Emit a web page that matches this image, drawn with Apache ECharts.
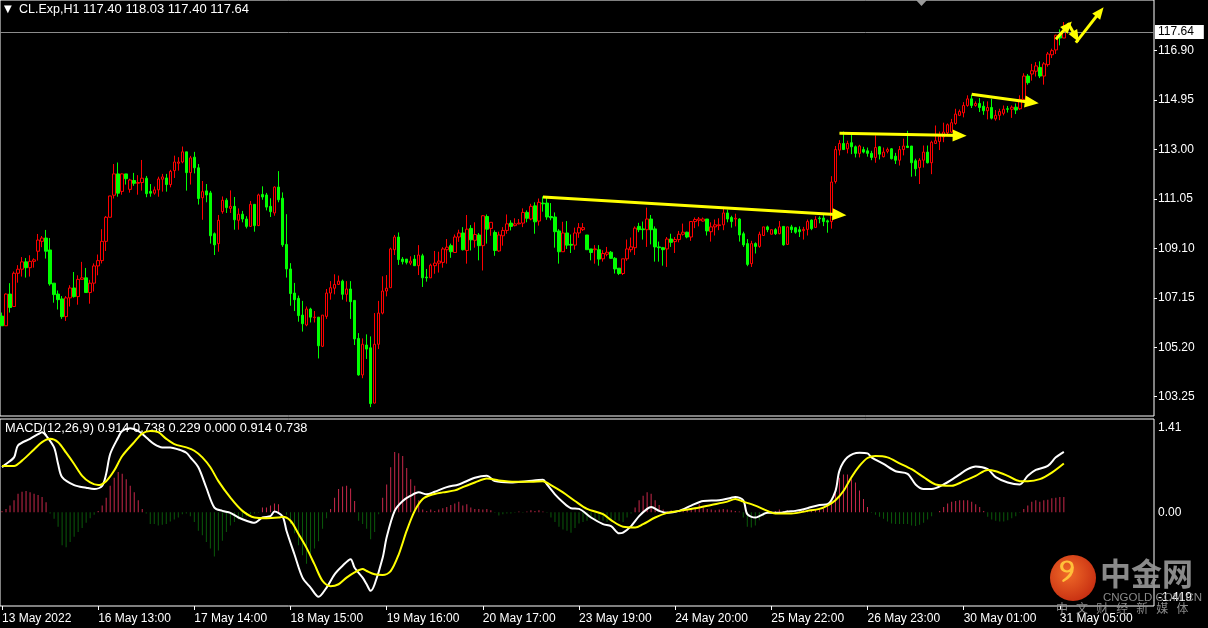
<!DOCTYPE html>
<html><head><meta charset="utf-8">
<script src="https://cdn.jsdelivr.net/npm/echarts@6/dist/echarts.min.js"></script>
<style>html,body{margin:0;padding:0;background:#000;}#c{width:1208px;height:628px;}</style>
</head><body><div id="c"></div>
<script>
const symbolName = 'CL.Exp,H1';
const macdTitle = 'MACD(12,26,9) 0.914 0.738 0.229 0.000 0.914 0.738';
const tickLabels = ['13 May 2022','16 May 13:00','17 May 14:00','18 May 15:00','19 May 16:00','20 May 17:00','23 May 19:00','24 May 20:00','25 May 22:00','26 May 23:00','30 May 01:00','31 May 05:00'];
const slotCount = 288;
const priceTicks = [103.25,105.20,107.15,109.10,111.05,113.00,114.95,116.90];
const priceMin = 102.49, priceMax = 118.90;
const macdTicks = [1.41, 0, -1.419];
const lastPrice = 117.64;
// [open, close, low, high]
const candles = [
[106.43,106.05,106.05,106.57],[106.05,107.30,106.05,107.33],[107.30,106.77,106.57,107.73],[106.81,108.12,106.81,108.19],[108.12,108.28,107.75,108.44],
[108.28,108.57,107.99,108.76],[108.57,108.34,107.95,108.72],[108.34,108.59,107.99,108.83],[108.59,108.65,108.34,108.71],[108.99,109.43,108.62,109.67],
[109.38,109.51,109.15,109.59],[109.51,108.99,108.70,109.83],[109.04,107.70,107.63,109.51],[107.73,107.28,106.96,107.73],[107.30,107.08,106.69,107.44],
[107.11,106.41,106.32,107.22],[106.41,107.15,106.24,107.22],[107.15,107.54,106.81,107.65],[107.54,107.20,107.16,108.17],[107.20,107.88,106.88,108.04],
[107.88,107.94,107.88,108.57],[107.94,107.36,107.36,108.33],[107.36,107.73,106.92,107.86],[107.73,108.41,107.40,108.51],[108.41,108.62,108.04,108.86],
[108.62,109.38,108.51,109.86],[109.38,110.33,109.00,110.38],[110.33,111.17,110.33,111.17],[111.20,112.04,111.07,112.43],[112.04,111.28,111.14,112.49],
[111.35,112.04,111.22,112.06],[112.04,111.85,111.62,112.04],[111.43,111.80,111.30,111.85],[111.78,111.67,111.57,112.08],[111.67,111.70,111.22,111.99],
[111.70,111.87,111.38,112.59],[111.87,111.26,111.12,111.96],[111.35,111.28,111.14,111.64],[111.28,111.41,111.22,111.54],[111.41,111.84,111.14,111.93],
[111.83,111.92,111.34,112.04],[111.88,111.62,111.34,112.04],[111.62,112.14,111.51,112.20],[112.17,112.51,111.88,112.76],[112.46,112.51,112.17,112.70],
[112.51,112.91,112.46,113.12],[112.91,112.09,111.38,112.91],[112.09,112.67,111.62,112.75],[112.70,112.28,112.06,112.91],[112.28,111.07,110.83,112.43],
[111.10,111.34,110.23,111.76],[111.37,111.21,110.92,111.64],[111.29,109.60,109.29,111.37],[109.68,109.24,108.84,109.73],[109.29,110.21,108.97,110.42],
[110.55,111.00,110.47,111.15],[111.00,110.71,110.50,111.08],[110.68,110.76,110.50,111.39],[110.76,110.23,109.84,111.13],[110.21,110.45,109.84,110.68],
[110.45,110.26,110.13,110.58],[110.26,109.97,109.89,110.37],[109.97,110.84,109.95,110.97],[110.84,110.00,109.76,110.84],[110.00,111.21,110.00,111.26],
[111.23,111.13,111.02,111.55],[111.21,110.73,110.60,111.29],[110.76,110.55,110.34,111.08],[110.50,111.52,110.39,111.55],[111.52,111.02,110.92,112.15],
[111.08,109.24,109.16,111.31],[109.26,108.29,107.95,110.45],[108.29,107.32,106.84,108.52],[107.34,107.08,106.63,107.74],[107.13,106.45,106.21,107.24],
[106.47,106.13,105.82,107.03],[106.08,106.71,106.03,106.81],[106.71,106.39,106.18,106.76],[106.37,106.39,106.18,106.63],[106.39,105.26,104.76,106.39],
[105.24,106.47,105.21,106.47],[106.42,107.34,106.32,107.50],[107.34,107.55,107.08,107.81],[107.53,107.68,107.29,108.08],[107.68,107.81,107.66,108.03],
[107.81,107.29,107.08,107.87],[107.29,107.50,107.00,107.81],[107.50,107.00,106.32,107.81],[107.05,105.53,105.29,107.05],[105.55,104.11,104.08,105.76],
[104.11,105.32,103.98,105.55],[105.29,105.13,104.74,105.71],[105.18,102.98,102.84,105.63],[103.00,105.32,102.98,106.55],[105.32,106.55,105.13,107.03],
[106.55,107.42,106.50,108.00],[107.42,107.53,107.21,108.05],[107.55,109.08,107.55,109.13],[109.05,109.55,108.84,109.63],[109.55,108.66,108.45,109.73],
[108.68,108.58,108.47,108.76],[108.68,108.55,108.47,108.68],[108.52,108.60,108.44,108.79],[108.68,108.42,108.42,108.84],[108.42,108.84,108.05,109.23],
[108.81,107.94,107.58,108.89],[107.97,107.94,107.79,108.29],[107.94,108.44,107.94,108.50],[108.42,108.52,108.10,109.00],[108.52,108.60,108.15,108.97],
[108.55,109.08,108.34,109.15],[109.05,109.15,108.50,109.47],[109.21,108.97,108.73,109.29],[108.94,109.55,108.92,109.65],[109.55,109.71,109.36,109.84],
[109.71,109.05,109.02,109.94],[109.02,109.86,108.50,110.42],[109.89,109.44,109.02,110.02],[109.42,109.65,109.13,110.13],[109.63,109.21,108.63,109.71],
[109.21,110.39,108.23,110.42],[110.36,109.86,109.29,110.44],[109.89,110.13,109.60,110.13],[109.73,109.02,108.81,109.81],[109.00,109.63,108.97,109.76],
[109.60,109.81,109.21,109.94],[109.81,110.07,109.68,110.44],[110.10,109.97,109.81,110.21],[110.00,110.07,109.97,110.29],[110.07,110.10,110.05,110.26],
[110.10,110.52,109.94,110.68],[110.52,110.29,110.13,110.60],[110.26,110.76,110.21,110.86],[110.78,110.15,109.68,110.92],[110.18,110.92,110.00,111.07],
[110.89,110.86,110.55,111.15],[110.89,110.34,110.23,111.10],[110.36,110.31,110.21,110.89],[110.34,109.76,109.13,110.52],[109.79,108.97,108.50,109.86],
[108.97,109.71,108.97,110.15],[109.71,109.23,109.08,110.18],[109.26,109.23,108.92,109.65],[109.23,109.71,109.05,109.92],[109.71,109.92,109.52,110.10],
[109.84,109.92,109.79,110.10],[109.63,109.05,109.05,109.63],[109.08,108.94,108.63,109.08],[109.05,109.08,108.50,109.23],[109.05,108.68,108.42,109.23],
[108.69,108.90,108.58,109.03],[108.87,108.95,108.79,109.16],[108.95,108.71,108.69,109.00],[108.71,108.29,108.11,108.76],[108.32,108.11,108.05,108.32],
[108.11,108.69,108.05,108.69],[108.69,109.08,108.61,109.45],[109.05,109.16,108.95,109.53],[109.13,109.90,108.84,109.97],[109.97,109.84,109.74,110.11],
[109.87,109.84,109.45,110.16],[109.84,110.26,109.16,110.71],[110.26,109.84,109.26,110.42],[109.87,109.16,108.58,109.97],[109.16,109.13,108.58,109.37],
[109.13,109.05,108.42,109.16],[109.08,109.47,108.37,109.55],[109.47,109.34,109.16,109.68],[109.37,109.45,108.92,109.55],[109.45,109.66,109.34,109.79],
[109.66,109.74,109.61,110.08],[109.74,109.55,109.50,109.76],[109.55,110.16,109.40,110.18],[110.16,110.24,109.90,110.32],[110.21,110.26,109.97,110.34],
[110.18,110.26,110.16,110.32],[110.26,109.79,109.61,110.26],[109.76,109.95,109.37,110.13],[109.95,110.03,109.61,110.24],[110.00,110.03,109.82,110.29],
[110.03,110.50,109.82,110.74],[110.50,110.26,110.13,110.63],[110.32,110.16,109.92,110.39],[110.26,110.29,109.97,110.47],[110.26,109.63,109.37,110.29],
[109.68,109.24,109.16,109.76],[109.29,108.47,108.40,109.47],[108.50,109.29,108.37,109.40],[109.29,109.18,108.90,109.34],[109.18,109.66,109.13,109.76],
[109.61,109.95,109.61,109.95],[109.95,109.84,109.74,110.00],[109.66,109.84,109.66,109.84],[109.84,109.68,109.63,109.90],[109.68,109.95,109.66,110.18],
[109.97,109.24,109.21,109.97],[109.26,109.95,109.24,109.95],[109.95,109.84,109.71,110.03],[109.92,109.74,109.68,109.95],[109.84,109.76,109.55,109.97],
[109.80,109.85,109.45,109.95],[109.85,110.16,109.61,110.24],[110.22,109.88,109.82,110.24],[109.93,110.24,109.93,110.37],[110.30,110.27,110.09,110.37],
[110.30,110.16,109.98,110.43],[110.19,110.14,109.72,110.24],[110.16,111.72,109.88,111.95],[111.74,113.00,111.66,113.14],[112.98,113.24,112.77,113.37],
[113.24,113.00,113.00,113.71],[113.03,113.24,112.85,113.35],[113.27,113.11,112.82,113.61],[113.11,112.85,112.69,113.16],[112.85,113.14,112.69,113.19],
[113.00,112.90,112.85,113.11],[112.95,112.85,112.72,113.08],[112.85,112.69,112.58,112.95],[112.69,113.08,112.48,113.56],[113.11,112.82,112.61,113.14],
[112.72,112.90,112.69,113.08],[112.93,113.00,112.85,113.08],[113.03,112.64,112.61,113.06],[112.74,112.58,112.43,112.87],[112.58,113.00,112.37,113.14],
[113.00,113.14,112.77,113.43],[113.14,113.08,113.06,113.74],[113.14,112.48,111.93,113.14],[112.56,112.24,111.95,112.64],[112.29,112.58,111.64,112.66],
[112.58,112.90,112.29,113.16],[112.90,112.48,112.45,113.16],[112.48,113.29,112.03,113.35],[113.24,113.35,113.22,113.95],[113.32,113.53,112.98,113.71],
[113.50,113.69,113.29,114.06],[113.66,113.98,113.61,114.03],[113.69,114.06,113.66,114.21],[114.03,114.40,113.98,114.61],[114.35,114.50,114.32,114.58],
[114.45,114.74,114.27,114.87],[114.74,115.00,114.69,115.14],[115.00,114.74,114.64,115.16],[114.74,114.82,114.69,114.90],[114.82,114.66,114.48,115.03],
[114.71,114.53,114.37,114.90],[114.53,114.66,114.19,114.90],[114.66,114.24,114.19,115.00],[114.21,114.35,114.14,114.56],[114.35,114.50,114.16,114.61],
[114.43,114.59,114.35,114.74],[114.61,114.59,114.46,114.72],[114.59,114.67,114.25,114.74],[114.67,114.56,114.40,114.82],[114.61,114.98,114.56,115.14],
[114.98,115.90,114.96,116.01],[115.90,115.64,115.56,115.98],[115.98,116.11,115.72,116.38],[116.09,116.30,115.88,116.45],[116.24,115.90,115.82,116.48],
[115.90,116.38,115.56,116.45],[116.35,116.77,116.27,116.85],[116.74,116.90,116.61,116.98],[116.93,117.51,116.77,117.53],[117.51,117.40,117.11,117.74],
[117.40,117.64,117.40,118.03]
];
const histogram = [
0.02,0.05,0.10,0.18,0.28,0.31,0.32,0.30,0.28,0.26,
0.23,0.15,-0.02,-0.10,-0.22,-0.50,-0.53,-0.45,-0.37,-0.30,
-0.24,-0.16,-0.09,-0.04,0.02,0.10,0.22,0.40,0.52,0.61,
0.58,0.50,0.40,0.30,0.18,0.05,-0.02,-0.18,-0.18,-0.20,
-0.19,-0.18,-0.14,-0.11,-0.08,-0.03,-0.02,-0.06,-0.15,-0.28,
-0.35,-0.45,-0.55,-0.67,-0.58,-0.43,-0.30,-0.20,-0.15,-0.11,
-0.08,-0.06,-0.03,-0.02,-0.01,0.07,0.07,0.10,0.13,0.12,
0.00,-0.04,-0.18,-0.32,-0.50,-0.65,-0.78,-0.69,-0.55,-0.44,
-0.25,-0.09,0.05,0.22,0.35,0.39,0.40,0.36,0.17,-0.13,
-0.18,-0.25,-0.41,-0.30,-0.03,0.22,0.42,0.68,0.91,0.89,
0.85,0.67,0.50,0.40,0.18,0.04,0.02,0.04,0.02,0.04,
0.06,0.08,0.11,0.13,0.16,0.10,0.12,0.07,0.05,0.05,
0.04,0.05,0.03,-0.01,-0.05,-0.03,-0.02,-0.02,-0.01,0.01,
-0.01,0.01,0.03,0.02,0.03,0.01,-0.01,-0.08,-0.15,-0.22,
-0.26,-0.28,-0.31,-0.24,-0.17,-0.15,-0.13,-0.11,-0.11,-0.12,
-0.13,-0.15,-0.13,-0.12,-0.13,-0.15,-0.08,-0.02,0.07,0.18,
0.25,0.30,0.28,0.18,0.11,0.04,0.02,0.03,0.02,0.02,
0.03,0.04,0.05,0.08,0.12,0.07,0.05,0.04,0.03,0.04,
0.05,0.04,0.03,0.02,0.01,-0.08,-0.22,-0.23,-0.20,-0.12,
-0.06,-0.02,0.01,0.02,0.04,0.02,0.03,0.02,0.03,0.02,
0.04,0.03,0.04,0.05,0.05,0.06,0.09,0.18,0.37,0.52,
0.57,0.57,0.50,0.45,0.33,0.20,0.08,-0.01,-0.04,-0.07,
-0.10,-0.14,-0.17,-0.18,-0.18,-0.18,-0.18,-0.20,-0.21,-0.19,
-0.16,-0.11,-0.06,0.00,0.02,0.08,0.13,0.16,0.17,0.18,
0.18,0.18,0.16,0.12,0.08,0.02,-0.07,-0.11,-0.13,-0.14,
-0.14,-0.12,-0.09,-0.06,-0.01,0.05,0.10,0.16,0.18,0.16,
0.18,0.19,0.21,0.22,0.23,0.23
];
// [bar index, value]
const macdMain = [[0,0.68],[1,0.73],[3,0.83],[4,1.01],[7,1.11],[9,1.18],[10,1.21],[11,1.16],[13,0.98],[14,0.73],[15,0.53],[18,0.41],[21,0.37],[23,0.35],[25,0.40],[26,0.58],[27,0.88],[29,1.13],[30,1.23],[32,1.27],[34,1.23],[36,1.13],[38,1.03],[40,0.98],[42,0.98],[44,0.95],[46,0.90],[47,0.83],[49,0.68],[51,0.37],[53,0.07],[55,0.02],[57,-0.01],[59,-0.08],[61,-0.13],[63,-0.16],[65,-0.08],[67,-0.06],[68,0.01],[70,-0.06],[71,-0.28],[73,-0.64],[75,-0.99],[77,-1.14],[79,-1.28],[81,-1.14],[83,-0.94],[85,-0.81],[87,-0.71],[88,-0.84],[90,-0.99],[91,-1.09],[92,-1.19],[93,-1.09],[95,-0.69],[96,-0.38],[98,0.02],[100,0.17],[102,0.25],[104,0.30],[106,0.27],[108,0.31],[111,0.38],[114,0.42],[118,0.52],[121,0.55],[123,0.47],[127,0.45],[131,0.47],[135,0.49],[136,0.42],[138,0.27],[140,0.15],[142,0.06],[144,0.05],[147,-0.08],[150,-0.18],[152,-0.21],[154,-0.32],[155,-0.31],[157,-0.21],[159,-0.06],[161,0.05],[162,0.08],[164,0.02],[166,-0.01],[169,0.02],[172,0.10],[175,0.17],[179,0.18],[182,0.22],[183,0.23],[185,0.18],[186,-0.03],[188,-0.08],[189,-0.06],[191,-0.01],[194,-0.01],[196,0.01],[198,0.02],[201,0.06],[204,0.11],[206,0.12],[208,0.32],[209,0.63],[211,0.83],[214,0.90],[216,0.89],[217,0.83],[220,0.73],[223,0.62],[226,0.58],[228,0.42],[230,0.35],[232,0.35],[235,0.42],[238,0.53],[241,0.65],[243,0.69],[246,0.65],[248,0.53],[251,0.45],[254,0.42],[256,0.55],[258,0.64],[261,0.70],[263,0.83],[265,0.914]];
const macdSignal = [[0,0.70],[3,0.70],[5,0.78],[8,0.95],[10,1.06],[12,1.11],[14,1.06],[16,0.90],[18,0.73],[20,0.55],[22,0.45],[24,0.41],[26,0.47],[28,0.63],[30,0.85],[33,1.06],[35,1.19],[37,1.23],[39,1.21],[41,1.11],[43,1.03],[46,0.98],[48,0.93],[50,0.83],[52,0.68],[54,0.47],[57,0.22],[60,0.02],[63,-0.08],[66,-0.09],[69,-0.08],[70,-0.07],[72,-0.13],[74,-0.33],[76,-0.54],[78,-0.79],[80,-1.04],[82,-1.12],[84,-1.09],[86,-0.99],[88,-0.91],[90,-0.86],[91,-0.89],[93,-0.94],[95,-0.95],[97,-0.89],[99,-0.64],[101,-0.28],[103,0.02],[105,0.20],[107,0.26],[110,0.30],[113,0.33],[115,0.38],[118,0.45],[121,0.51],[124,0.48],[128,0.46],[132,0.46],[135,0.47],[137,0.41],[140,0.30],[143,0.17],[146,0.05],[150,-0.03],[152,-0.12],[155,-0.22],[158,-0.23],[160,-0.18],[163,-0.08],[166,-0.01],[169,0.02],[173,0.06],[177,0.11],[181,0.16],[183,0.20],[185,0.16],[188,0.10],[191,0.02],[193,-0.02],[197,-0.02],[201,0.02],[204,0.05],[206,0.10],[208,0.18],[210,0.32],[212,0.53],[214,0.70],[216,0.82],[218,0.85],[221,0.83],[224,0.74],[227,0.65],[230,0.53],[233,0.42],[237,0.40],[240,0.47],[243,0.55],[246,0.64],[248,0.62],[251,0.55],[254,0.47],[256,0.47],[259,0.50],[262,0.60],[265,0.738]];
// drawn trend arrows: [start [bar, price], end [bar, price]]
const arrows = [
  [[135,111.13],[209,110.43]],
  [[209,113.64],[239,113.55]],
  [[242,115.18],[257,114.86]],
  [[263,117.35],[266,117.88]],
  [[266,117.99],[268,117.45]],
  [[268,117.22],[274,118.43]]
];

const FONT = 'Liberation Sans';
const cats = Array.from({length: slotCount}, (_, i) => String(i));
const last = candles[candles.length - 1];
const headerValues = [last[0], last[3], last[2], last[1]].map(v => v.toFixed(2)).join(' ');

const arrowLines = arrows.map((a, i) => [
  {coord: a[0], symbol: 'none', lineStyle: {color: '#ffff00', width: 3, type: 'solid'}, label: {show: false}},
  {coord: a[1], symbol: 'triangle', symbolSize: i >= 3 ? [10, 12] : [12, 14]}
]);

const chart = echarts.init(document.getElementById('c'), null, {renderer: 'canvas'});
chart.setOption({
  backgroundColor: '#000',
  animation: false,
  textStyle: {fontFamily: FONT},
  grid: [
    {left: 0, top: 0, width: 1154, height: 416, show: true, borderColor: '#ffffff', borderWidth: 1, backgroundColor: 'transparent', outerBoundsMode: 'none'},
    {left: 0, top: 419, width: 1154, height: 187, show: true, borderColor: '#ffffff', borderWidth: 1, backgroundColor: 'transparent', outerBoundsMode: 'none'}
  ],
  xAxis: [
    {type: 'category', gridIndex: 0, data: cats, boundaryGap: true, show: false},
    {type: 'category', gridIndex: 1, data: cats, boundaryGap: true,
     axisLine: {show: false, onZero: false},
     axisTick: {show: true, interval: 23, alignWithLabel: true, length: 4, lineStyle: {color: '#ffffff'}},
     axisLabel: {interval: 23, color: '#ffffff', fontSize: 12, fontFamily: FONT, align: 'left', margin: 7,
       formatter: (v, i) => tickLabels[i / 24] || ''},
     splitLine: {show: false}}
  ],
  yAxis: [
    {type: 'value', gridIndex: 0, position: 'right', min: priceMin, max: priceMax,
     splitLine: {show: false}, axisLine: {show: false},
     axisTick: {show: true, length: 3, customValues: priceTicks, lineStyle: {color: '#ffffff'}},
     axisLabel: {customValues: priceTicks, color: '#ffffff', fontSize: 12, fontFamily: FONT, margin: 4, formatter: v => v.toFixed(2)}},
    {type: 'value', gridIndex: 1, position: 'right', min: macdTicks[2], max: macdTicks[0],
     splitLine: {show: false}, axisLine: {show: false, onZero: false},
     axisTick: {show: false},
     axisLabel: {customValues: macdTicks, color: '#ffffff', fontSize: 12, fontFamily: FONT, margin: 4,
       formatter: v => v > 1 ? '{t|' + v.toFixed(2) + '}' : (v < -1 ? '{b|' + v.toFixed(3) + '}' : '{m|' + v.toFixed(2) + '}'),
       rich: {
         t: {padding: [18, 0, 0, 0], color: '#ffffff', fontSize: 12, fontFamily: FONT},
         b: {padding: [0, 0, 16, 0], color: '#ffffff', fontSize: 12, fontFamily: FONT},
         m: {color: '#ffffff', fontSize: 12, fontFamily: FONT}
       }}}
  ],
  series: [
    {type: 'candlestick', xAxisIndex: 0, yAxisIndex: 0, data: candles, barWidth: 3,
     itemStyle: {color: '#000000', color0: '#00ff00', borderColor: '#ff0000', borderColor0: '#00ff00', borderWidth: 1},
     markLine: {silent: true, animation: false, symbol: ['none', 'none'],
       data: [
         {yAxis: lastPrice, lineStyle: {color: '#8c8c8c', width: 1, type: 'solid'},
          label: {show: true, position: 'end', formatter: lastPrice.toFixed(2), backgroundColor: '#ffffff', color: '#000000', fontSize: 12, fontFamily: FONT, padding: [1, 10, 1, 3], distance: 1}},
         ...arrowLines
       ]}},
    {type: 'bar', xAxisIndex: 1, yAxisIndex: 1, data: histogram, barWidth: 1,
     itemStyle: {color: p => p.value >= 0 ? '#c8284a' : '#0a5a0a'}},
    {type: 'line', xAxisIndex: 1, yAxisIndex: 1, data: macdMain, smooth: 0.3, showSymbol: false,
     lineStyle: {color: '#ffffff', width: 2}},
    {type: 'line', xAxisIndex: 1, yAxisIndex: 1, data: macdSignal, smooth: 0.3, showSymbol: false,
     lineStyle: {color: '#ffff00', width: 2}}
  ],
  graphic: [
    {type: 'text', left: 4, top: 4, style: {text: '▼', fill: '#ffffff', font: '10px DejaVu Sans'}},
    {type: 'text', left: 19, top: 3, style: {text: symbolName, fill: '#ffffff', font: '12.5px ' + FONT}},
    {type: 'text', left: 83, top: 3, style: {text: headerValues, fill: '#ffffff', font: '13px ' + FONT}},
    {type: 'text', left: 5, top: 422, style: {text: macdTitle, fill: '#ffffff', font: '12.8px ' + FONT}},
    {type: 'polygon', shape: {points: [[916, 0], [927, 0], [921.5, 6]]}, style: {fill: '#9a9a9a'}},
    {type: 'circle', z: 100, shape: {cx: 1073, cy: 578, r: 23},
     style: {fill: new echarts.graphic.RadialGradient(0.4, 0.4, 0.7, [{offset: 0, color: '#f06a28'}, {offset: 1, color: '#c42a10'}])}},
    {type: 'text', z: 101, left: 1059, top: 557, style: {text: '୨', fill: '#ffc03a', font: 'bold 32px DejaVu Sans'}},
    {type: 'text', z: 100, left: 1100, top: 558, style: {text: '中金网', fill: 'rgba(150,150,150,0.92)', font: 'bold 31px "Noto Sans CJK SC"'}},
    {type: 'text', z: 100, left: 1103, top: 592, style: {text: 'CNGOLD.COM.CN', fill: 'rgba(150,150,150,0.92)', font: '11.5px ' + FONT}},
    {type: 'text', z: 100, left: 1056, top: 602, style: {text: '中   文   财   经   新   媒   体', fill: 'rgba(150,150,150,0.92)', font: '12px "Noto Sans CJK SC"'}}
  ]
});
</script></body></html>
